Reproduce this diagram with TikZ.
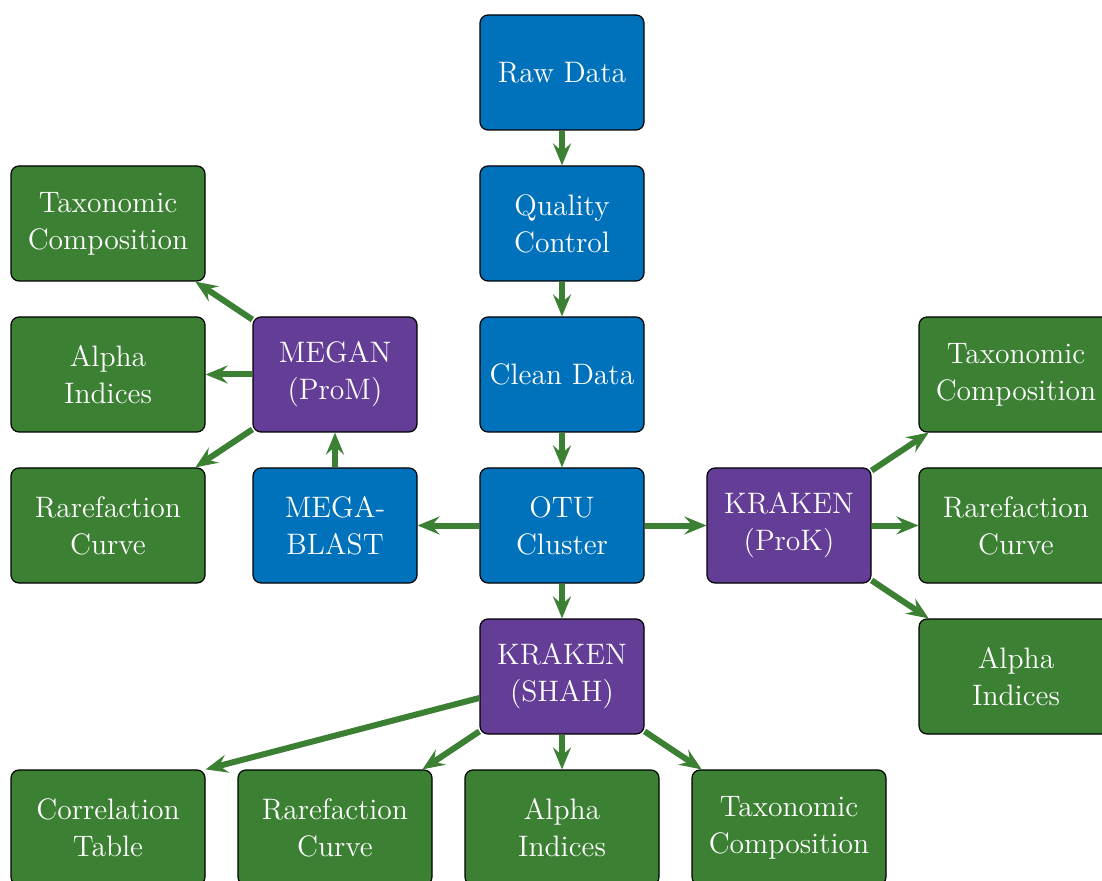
\documentclass[tikz,border=0pt]{standalone}
\usetikzlibrary{arrows.meta}
\definecolor{cblue}{RGB}{0,114,187}
\definecolor{cpurple}{RGB}{99,61,150}
\definecolor{cgreen}{RGB}{59,128,51}
\begin{document}
\begin{tikzpicture}[x=0.5pt,y=-0.5pt,
  box/.style={draw=black, line width=0.6pt, rounded corners=4pt, text=white,
    align=center, font=\fontsize{14.8}{18.5}\selectfont, minimum height=57.5pt, inner sep=2pt},
  bluebox/.style={box, fill=cblue, minimum width=82pt},
  purplebox/.style={box, fill=cpurple, minimum width=82pt},
  greenbox/.style={box, fill=cgreen, minimum width=97pt},
  arr/.style={draw=cgreen, line width=3pt, -{Stealth[length=11pt,width=9pt,inset=4pt]}}]
\useasboundingbox (0,0) rectangle (1102,881);
\node[bluebox] (raw) at (562,72.5) {Raw Data};
\node[bluebox] (qc) at (562,223.5) {Quality\\Control};
\node[bluebox] (clean) at (562,374.5) {Clean Data};
\node[bluebox] (otu) at (562,525.5) {OTU\\Cluster};
\node[purplebox] (shah) at (562,676.5) {KRAKEN\\(SHAH)};
\node[bluebox] (blast) at (335,525.5) {MEGA-\\BLAST};
\node[purplebox] (megan) at (335,374.5) {MEGAN\\(ProM)};
\node[greenbox] (lt) at (108,223.5) {Taxonomic\\Composition};
\node[greenbox] (la) at (108,374.5) {Alpha\\Indices};
\node[greenbox] (lr) at (108,525.5) {Rarefaction\\Curve};
\node[purplebox] (prok) at (789,525.5) {KRAKEN\\(ProK)};
\node[greenbox] (rt) at (1016,374.5) {Taxonomic\\Composition};
\node[greenbox] (rr) at (1016,525.5) {Rarefaction\\Curve};
\node[greenbox] (ra) at (1016,676.5) {Alpha\\Indices};
\node[greenbox] (bc) at (108,827.5) {Correlation\\Table};
\node[greenbox] (br) at (335,827.5) {Rarefaction\\Curve};
\node[greenbox] (ba) at (562,827.5) {Alpha\\Indices};
\node[greenbox] (bt) at (789,827.5) {Taxonomic\\Composition};
\draw[arr] (raw) -- (qc);
\draw[arr] (qc) -- (clean);
\draw[arr] (clean) -- (otu);
\draw[arr] (otu) -- (shah);
\draw[arr] (otu) -- (blast);
\draw[arr] (otu) -- (prok);
\draw[arr] (blast) -- (megan);
\draw[arr] (megan) -- (lt);
\draw[arr] (megan) -- (la);
\draw[arr] (megan) -- (lr);
\draw[arr] (prok) -- (rt);
\draw[arr] (prok) -- (rr);
\draw[arr] (prok) -- (ra);
\draw[arr] (shah) -- (bc.north east);
\draw[arr] (shah) -- (br);
\draw[arr] (shah) -- (ba);
\draw[arr] (shah) -- (bt);
\end{tikzpicture}
\end{document}
